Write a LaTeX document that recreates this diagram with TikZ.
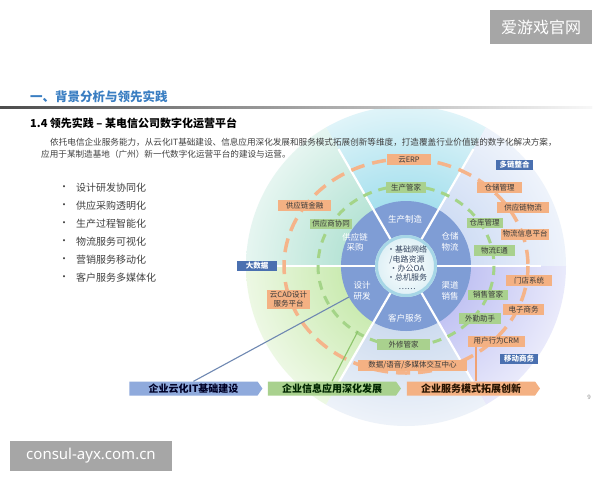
\documentclass[tikz,border=0pt]{standalone}
\usepackage{fontspec}
\setmainfont{Noto Sans CJK SC}
\newfontfamily\latinsans{Noto Sans}
\usetikzlibrary{shapes.symbols,calc}
\newcommand{\fsz}[2]{\fontsize{#1}{#2}\selectfont}
\definecolor{ttl}{HTML}{3A7EC2}
\definecolor{ringc}{HTML}{7F9DD5}
\definecolor{ob}{HTML}{F4B183}
\definecolor{gb}{HTML}{A9D18E}
\definecolor{bb}{HTML}{4A70B0}
\definecolor{ab}{HTML}{8FAADC}
\definecolor{od}{HTML}{F5B48A}
\definecolor{gd}{HTML}{A4D488}
\definecolor{txtd}{HTML}{3A3A3A}
\definecolor{body}{HTML}{404040}
\definecolor{wm}{HTML}{A6A6A6}
\definecolor{s1}{HTML}{7ED2E6}
\definecolor{s2}{HTML}{BCCFF0}
\definecolor{s3}{HTML}{A8AAEE}
\definecolor{s4}{HTML}{B8CCE8}
\definecolor{s5}{HTML}{B4E290}
\definecolor{s6}{HTML}{98D8C4}
\definecolor{corebd}{HTML}{A6D6E6}
\definecolor{corefill}{HTML}{DCEFF5}
\definecolor{coretxt}{HTML}{34455F}
\definecolor{lineb}{HTML}{6F88B2}
\definecolor{lineg}{HTML}{8CC46A}
\definecolor{lineo}{HTML}{F0A274}
\begin{document}
\begin{tikzpicture}[x=1pt,y=-1pt,
  obox/.style={fill=ob, text=txtd, font=\fsz{7.5}{9}, inner sep=0pt, minimum height=11pt, align=center},
  gbox/.style={fill=gb, text=txtd, font=\fsz{7.5}{9}, inner sep=0pt, minimum height=10.5pt},
  bbox/.style={fill=bb, text=white, font=\bfseries\fsz{7.5}{9}, inner sep=0pt, minimum height=10pt},
  seglab/.style={text=white, font=\fsz{8.5}{10.5}, align=center, inner sep=0pt},
  arrowbox/.style={signal, signal to=east, signal pointer angle=110, minimum height=14pt, minimum width=133pt, inner sep=0pt, font=\bfseries\fsz{10}{12}},
  txt/.style={anchor=west, inner sep=0pt, text=body}]
\useasboundingbox (0,0) rectangle (600,480);
\fill[white] (0,0) rectangle (600,480);
\coordinate (c) at (406,266);
% sector backgrounds
\foreach \a/\b/\col in {240/300/s1, 300/360/s2, 0/60/s3, 60/120/s4, 120/180/s5, 180/240/s6}{
  \begin{scope}
    \clip (c) -- ([shift={(\a:160)}]c) arc[start angle=\a, end angle=\b, radius=160] -- cycle;
    \shade[inner color=\col, outer color=white] (c) circle (212);
  \end{scope}
}
% ring
\fill[ringc] (c) circle (65);
\foreach \a in {0,60,...,300}{
  \draw[white, line width=2.2pt] ([shift={(\a:31)}]c) -- ([shift={(\a:135)}]c);
}
% core
\shade[inner color=white, outer color=corefill] (c) circle (31);
\draw[corebd, line width=3pt] (c) circle (29.5);
\node[align=center, text=coretxt, font=\fsz{8}{9.2}, inner sep=0pt] (core) at (407,268) {•基础网络\\/电路资源\\•办公OA\\•总机服务\\……};
% segment labels
\node[seglab] (sA) at (405,219) {生产制造};
\node[seglab] (sB) at (450,242) {仓储\\物流};
\node[seglab] (sC) at (450,291) {渠道\\销售};
\node[seglab] (sD) at (405,318) {客户服务};
\node[seglab] (sE) at (362,291) {设计\\研发};
\node[seglab] (sF) at (355,242) {供应链\\采购};
% dashed rings
\draw[od, line width=3.5pt, dash pattern=on 14pt off 8pt] (c) ellipse [x radius=122, y radius=107];
\draw[gd, line width=3pt, dash pattern=on 9pt off 7pt] (c) ellipse [x radius=88, y radius=80];
% connectors
\coordinate (bstart) at (349,297);
\coordinate (gstart) at (358,331);
\coordinate (ostart) at (476,346);
% bottom arrows
\node[arrowbox, fill=ab, text=black!85!blue] (arrB) at (193.5,388.5) {企业云化IT基础建设};
\node[arrowbox, fill=gb, text=black!85!green] (arrG) at (332,388.5) {企业信息应用深化发展};
\node[arrowbox, fill=ob, text=black!85!orange] (arrO) at (471,388.5) {企业服务模式拓展创新};
\draw[lineb, line width=1.1pt] (bstart) -- (arrB.north);
\draw[lineg, line width=1.1pt] (gstart) -- (arrG.north);
\draw[lineo, line width=1.2pt] (ostart) -- (ostart |- arrO.north);
% orange boxes
\node[obox, minimum width=44pt] (erp) at (409,159.5) {云ERP};
\node[obox, minimum width=53pt] (scf) at (304.5,205.5) {供应链金融};
\node[obox, minimum width=43pt, minimum height=19pt] (cad) at (288.5,299.5) {云CAD设计\\服务平台};
\node[obox, minimum width=109pt] (media) at (412.5,365) {数据/语音/多媒体交互中心};
\node[obox, minimum width=57pt] (crm) at (496.5,341) {用户行为CRM};
\node[obox, minimum width=41pt] (ec) at (523.5,309.5) {电子商务};
\node[obox, minimum width=46pt] (store) at (529,280.5) {门店系统};
\node[obox, minimum width=48pt] (lip) at (525,234) {物流信息平台};
\node[obox, minimum width=52pt] (scl) at (523,207.5) {供应链物流};
\node[obox, minimum width=45pt] (wm) at (499.5,187.5) {仓储管理};
% green boxes
\node[gbox, minimum width=40pt] (scgj) at (406,187.5) {生产管家};
\node[gbox, minimum width=42pt] (gysxt) at (331,224) {供应商协同};
\node[gbox, minimum width=36pt] (ckgl) at (484.5,223) {仓库管理};
\node[gbox, minimum width=41pt] (wlet) at (494.5,250.5) {物流E通};
\node[gbox, minimum width=40pt] (xsgj) at (488,295) {销售管家};
\node[gbox, minimum width=42pt] (wqzs) at (480,318.5) {外勤助手};
\node[gbox, minimum width=53pt] (wxgj) at (403.5,344.5) {外修管家};
% blue labels
\node[bbox, minimum width=37pt] (dlzh) at (514.5,165) {多链整合};
\node[bbox, minimum width=40pt] (dsj) at (257,266) {大数据};
\node[bbox, minimum width=38pt] (ydsw) at (519,359) {移动商务};
% titles and text
\node[anchor=west, inner sep=0pt, text=ttl, font=\bfseries\fsz{12.5}{14}] (t1) at (30,97) {一、背景分析与领先实践};
\shade[left color=black!70, right color=black!3] (0,106.5) rectangle (592,108.3);
\node[anchor=west, inner sep=0pt, text=black, font=\bfseries\fsz{11}{13}] (t2) at (30,123) {1.4 领先实践 – 某电信公司数字化运营平台};
\node[txt, font=\fsz{8.6}{10}] (p1) at (50,142) {依托电信企业服务能力，从云化IT基础建设、信息应用深化发展和服务模式拓展创新等维度，打造覆盖行业价值链的数字化解决方案，};
\node[txt, font=\fsz{8.6}{10}] (p2) at (41,154) {应用于某制造基地（广州）新一代数字化运营平台的建设与运营。};
\foreach \y/\t [count=\i] in {188/设计研发协同化, 206/供应采购透明化, 224/生产过程智能化, 242/物流服务可视化, 260/营销服务移动化, 278/客户服务多媒体化}{
  \node[txt, font=\fsz{10}{12}] (bd\i) at (59,\y) {•};
  \node[txt, font=\fsz{10}{12}] (bt\i) at (76,\y) {\t};
}
\node[inner sep=0pt, text=black!45, font=\latinsans\fsz{6}{7}] (pg) at (589,397) {9};
% watermarks
\node[fill=wm, text=white, minimum width=102pt, minimum height=34pt, inner sep=0pt, font=\fsz{16}{18}] (wm1) at (541,27) {爱游戏官网};
\node[fill=wm, text=white, minimum width=162pt, minimum height=30pt, inner sep=0pt, font=\latinsans\fsz{15}{17}] (wm2) at (91,456) {consul-ayx.com.cn};
\end{tikzpicture}
\end{document}
